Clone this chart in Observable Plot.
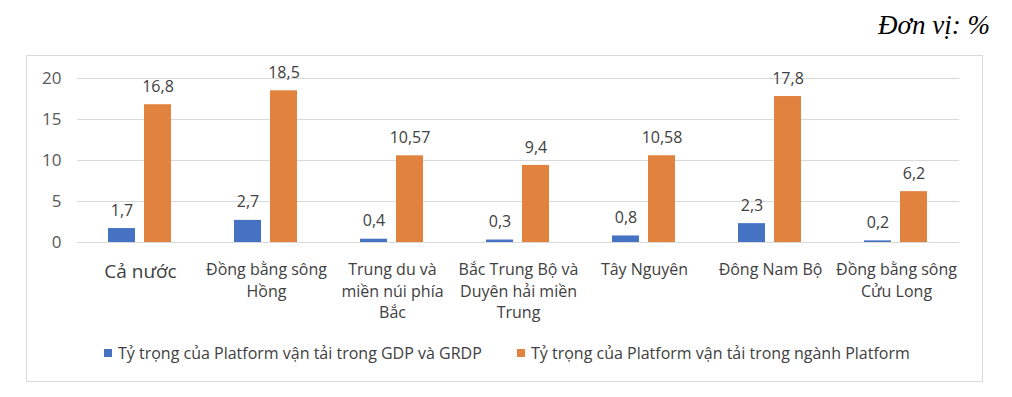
<!DOCTYPE html>
<html><head><meta charset="utf-8">
<script src="https://cdn.jsdelivr.net/npm/d3@7"></script>
<script src="https://cdn.jsdelivr.net/npm/@observablehq/plot@0.6"></script>
<style>
body{margin:0;background:#fff;font-family:"Open Sans",sans-serif;}
#wrap{position:relative;width:1012px;height:397px;overflow:hidden;background:#fff}
#frame{position:absolute;left:26px;top:55px;width:957px;height:327px;border:1px solid #d9d9d9;box-sizing:border-box}
#title{position:absolute;right:22px;top:8px;font-family:"Liberation Serif",serif;font-style:italic;font-size:27px;color:#000;line-height:34px}
#chart{position:absolute;left:0;top:0}
.leg{position:absolute;top:343px;height:20px;display:flex;align-items:center;font-family:"Open Sans",sans-serif;font-size:16px;color:#404040;white-space:nowrap}
.sw{width:8px;height:8px;margin-right:6px;display:inline-block}
</style></head>
<body><div id="wrap">
<div id="frame"></div>
<div id="title">Đơn vị: %</div>
<div id="chart"></div>
<div class="leg" id="leg0" style="left:104px"></div>
<div class="leg" id="leg1" style="left:517px"></div>
</div>
<script>
const categories = ["Cả nước","Đồng bằng sông Hồng","Trung du và miền núi phía Bắc","Bắc Trung Bộ và Duyên hải miền Trung","Tây Nguyên","Đông Nam Bộ","Đồng bằng sông Cửu Long"];
const categoryLabels = ["Cả nước","Đồng bằng sông\nHồng","Trung du và\nmiền núi phía\nBắc","Bắc Trung Bộ và\nDuyên hải miền\nTrung","Tây Nguyên","Đông Nam Bộ","Đồng bằng sông\nCửu Long"];
const seriesNames = ["Tỷ trọng của Platform vận tải trong GDP và GRDP","Tỷ trọng của Platform vận tải trong ngành Platform"];
const gdpShare = [1.7,2.7,0.4,0.3,0.8,2.3,0.2];
const platformShare = [16.8,18.5,10.57,9.4,10.58,17.8,6.2];
const yTicks = [0,5,10,15,20];
const colors = ["#4672C4","#E1823F"];

const rows = categories.flatMap((c,i)=>[
  {category:c, series:seriesNames[0], value:gdpShare[i]},
  {category:c, series:seriesNames[1], value:platformShare[i]}
]);
const labelRows = categories.map((c,i)=>({category:c, label:categoryLabels[i], first:i===0}));
const fmt = v => String(v).replace(".", ",");

const chart = Plot.plot({
  width:1012, height:330,
  marginLeft:75, marginRight:51, marginTop:78, marginBottom:88,
  style:{fontFamily:"'Open Sans', sans-serif", background:"transparent"},
  fx:{domain:categories, padding:0, axis:null},
  x:{domain:seriesNames, paddingInner:0.247, paddingOuter:0.858, axis:null},
  y:{domain:[0,20], axis:null},
  color:{domain:seriesNames, range:colors},
  marks:[
    Plot.ruleY(yTicks,{stroke:"#d9d9d9", strokeWidth:1.2}),
    Plot.axisY({ticks:yTicks, tickSize:0, tickPadding:16, fontSize:17, fill:"#595959", label:null, anchor:"left"}),
    Plot.barY(rows,{fx:"category", x:"series", y:"value", fill:"series"}),
    Plot.text(rows,{fx:"category", x:"series", y:"value", text:d=>fmt(d.value), dy:-18, fontSize:16, fill:"#404040"}),
    Plot.text(labelRows,{fx:"category", text:"label", frameAnchor:"bottom", lineAnchor:"top", dy:17, lineHeight:1.36, fontSize:d=>d.first?19:16, fill:"#404040"})
  ]
});
document.getElementById("chart").appendChild(chart);
seriesNames.forEach((s,i)=>{
  const el=document.getElementById("leg"+i);
  el.innerHTML=`<span class="sw" style="background:${colors[i]}"></span><span></span>`;
  el.lastChild.textContent=s;
});
</script>
</body></html>
